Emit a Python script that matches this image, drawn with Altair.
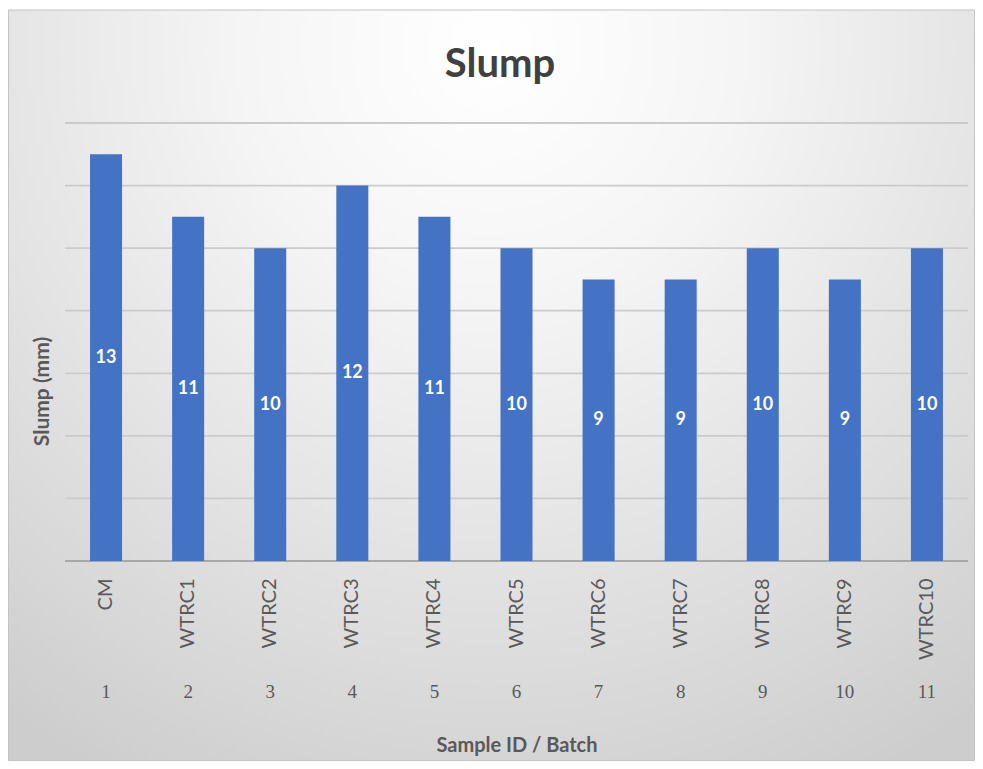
import altair as alt
import pandas as pd

# ---- data ----
names = ["CM", "WTRC1", "WTRC2", "WTRC3", "WTRC4", "WTRC5",
         "WTRC6", "WTRC7", "WTRC8", "WTRC9", "WTRC10"]
batch = [1, 2, 3, 4, 5, 6, 7, 8, 9, 10, 11]
slump = [13, 11, 10, 12, 11, 10, 9, 9, 10, 9, 10]
grid_vals = [0, 2, 4, 6, 8, 10, 12, 14]
title_text = "Slump"
x_title = "Sample ID / Batch"
y_title = "Slump (mm)"

W, H = 903, 438
FONT = "Lato"
GREY = "#595959"

df = pd.DataFrame({"name": names, "num": [str(b) for b in batch], "slump": slump})
df["mid"] = df["slump"] / 2
gdf = pd.DataFrame({"g": grid_vals})

xaxis = alt.Axis(
    title=x_title, titleFont=FONT, titleFontSize=20, titleFontWeight="bold",
    titleColor=GREY, titleY=184, titleBaseline="middle",
    labelAngle=270, labelAlign="right", labelBaseline="middle",
    labelPadding=17, labelFont=FONT, labelFontSize=20, labelColor=GREY,
    domain=False, ticks=False, grid=False, zindex=1,
)
yaxis = alt.Axis(
    title=y_title, titleFont=FONT, titleFontSize=21, titleFontWeight="bold",
    titleColor=GREY, titleX=-23, titleY=268, titleAngle=270,
    titleBaseline="middle", titleAlign="center",
    labels=False, ticks=False, domain=False, grid=False, zindex=1,
)
xscale = alt.Scale(paddingInner=0.61, paddingOuter=0.305)
yscale = alt.Scale(domain=[0, 14], nice=False)


def X():
    return alt.X("name:N", sort=names, scale=xscale, axis=xaxis)


def Y(field):
    return alt.Y(field, scale=yscale, axis=yaxis)


grad = alt.RadialGradient(
    gradient="radial",
    x1=0.5, y1=0.15, r1=0.0,
    x2=0.5, y2=0.15, r2=0.85,
    stops=[
        alt.GradientStop(offset=0.0, color="#ffffff"),
        alt.GradientStop(offset=0.3, color="#f5f5f5"),
        alt.GradientStop(offset=0.75, color="#dcdcdc"),
        alt.GradientStop(offset=1.0, color="#cdcdcd"),
    ],
)

bg = alt.Chart(pd.DataFrame({"k": [0]})).mark_rect(
    fill=grad, stroke="#c4c4c4", strokeWidth=1
).encode(
    x=alt.value(-56.5), x2=alt.value(909.5),
    y=alt.value(-113), y2=alt.value(637.5),
)

rules = alt.Chart(gdf).mark_rule(strokeWidth=1.8).encode(
    y=Y("g:Q"),
    color=alt.condition(alt.datum.g == 0, alt.value("#a8a8a8"), alt.value("#cbcbcb")),
)

bars = alt.Chart(df).mark_bar(color="#4472C4").encode(
    x=X(), y=Y("slump:Q"),
)

labels = alt.Chart(df).mark_text(
    color="white", font=FONT, fontSize=18, fontWeight="bold", baseline="middle"
).encode(x=X(), y=Y("mid:Q"), text="slump:Q")

nums = alt.Chart(df).mark_text(
    color=GREY, font="Liberation Serif", fontSize=19, baseline="middle"
).encode(x=X(), y=alt.value(569), text="num:N")

title = alt.Chart(pd.DataFrame({"t": [title_text]})).mark_text(
    font=FONT, fontSize=40, fontWeight="bold", color="#404040",
    align="center", baseline="alphabetic",
).encode(x=alt.value(435), y=alt.value(-46), text="t:N")

chart = alt.layer(bg, rules, bars, labels, nums, title).properties(
    width=W, height=H,
    padding={"left": 57, "top": 115, "right": 7, "bottom": 200},
    autosize=alt.AutoSizeParams(type="none"),
    background="white",
).configure_view(stroke=None)

chart.save("out.html", embed_options={"renderer": "svg", "actions": False})
